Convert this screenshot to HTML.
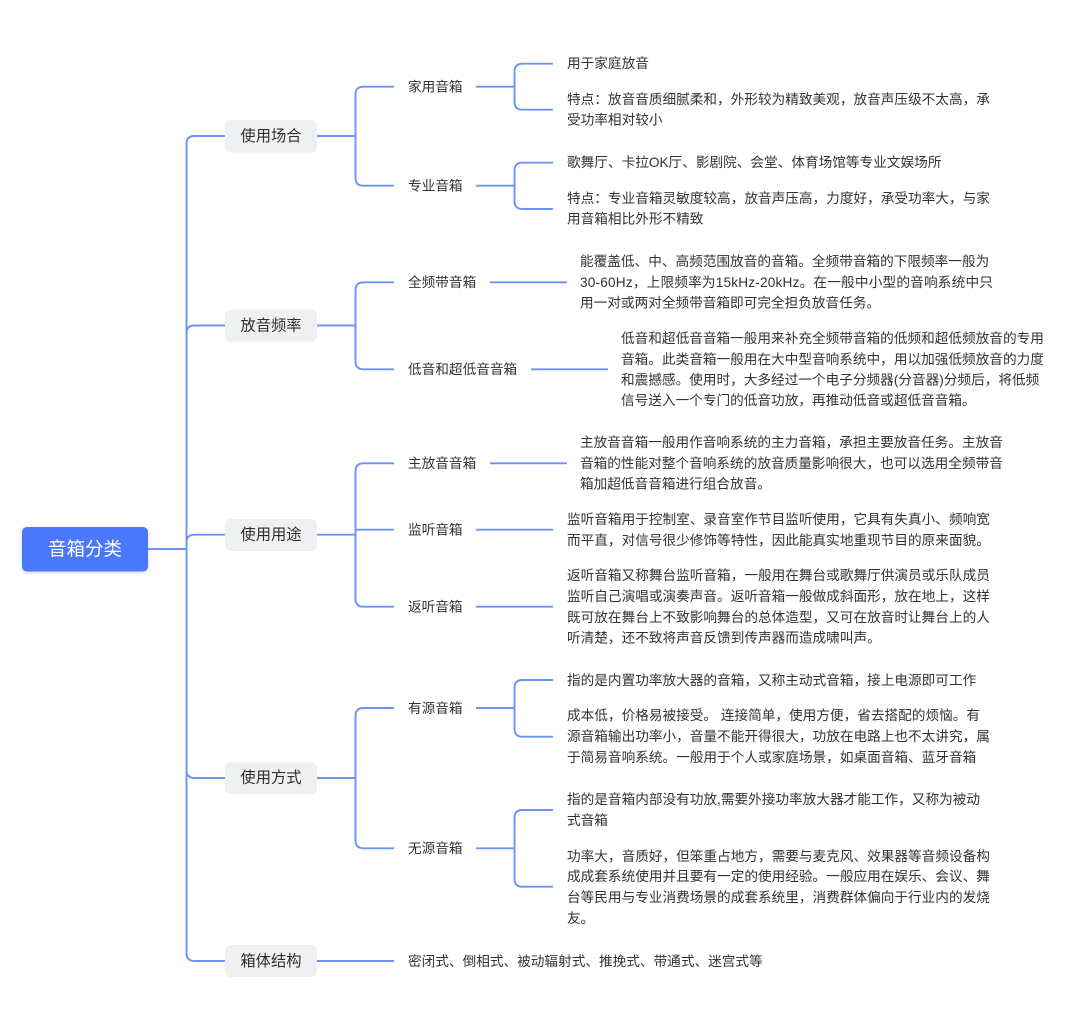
<!DOCTYPE html>
<html lang="zh-CN">
<head>
<meta charset="utf-8">
<title>音箱分类</title>
<style>
html,body{margin:0;padding:0;background:#fff;width:1080px;height:1023px;overflow:hidden}
svg{display:block;font-family:"Liberation Sans","Noto Sans CJK SC",sans-serif}
.c{fill:none;stroke:#6d93f8;stroke-width:1.9}
.t{font-size:13.65px;fill:#333}
.l{font-size:13.65px;fill:#333}
.b{font-size:15.3px;fill:#2e2e2e;text-anchor:middle}
</style>
</head>
<body>
<svg width="1080" height="1023" viewBox="0 0 1080 1023" xmlns="http://www.w3.org/2000/svg">
<defs>
<filter id="s" x="-20%" y="-30%" width="140%" height="160%"><feDropShadow dx="0" dy="1" stdDeviation="2" flood-color="#4c78fb" flood-opacity=".3"/></filter>
</defs>

<!-- Level 1 connectors -->
<path class="c" d="M148 549H186.5"/>
<path class="c" d="M225 136H194.5Q186.5 136 186.5 144V953Q186.5 961 194.5 961H225"/>
<path class="c" d="M186.5 333Q186.5 325.5 194.5 325.5H225"/>
<path class="c" d="M186.5 542.5Q186.5 534.7 194.5 534.7H225"/>
<path class="c" d="M186.5 770Q186.5 778 194.5 778H225"/>

<!-- Level 2 connectors -->
<path class="c" d="M317 136H355.5M394 86.7H363.5Q355.5 86.7 355.5 94.7V177.7Q355.5 185.7 363.5 185.7H394"/>
<path class="c" d="M317 325.5H355.5M394 282.3H363.5Q355.5 282.3 355.5 290.3V361.3Q355.5 369.3 363.5 369.3H394"/>
<path class="c" d="M317 534.7H355.5M394 463.3H363.5Q355.5 463.3 355.5 471.3V598.7Q355.5 606.7 363.5 606.7H394M355.5 529.7H394"/>
<path class="c" d="M317 778H355.5M394 708H363.5Q355.5 708 355.5 716V840.3Q355.5 848.3 363.5 848.3H394"/>
<path class="c" d="M317 961H394"/>

<!-- Level 3 connectors -->
<path class="c" d="M476 86.7H514.5M553 63.7H522.5Q514.5 63.7 514.5 71.7V101.7Q514.5 109.7 522.5 109.7H553"/>
<path class="c" d="M476 185.7H514.5M553 162.7H522.5Q514.5 162.7 514.5 170.7V201Q514.5 209 522.5 209H553"/>
<path class="c" d="M490 282.3H567"/>
<path class="c" d="M531 369.3H608"/>
<path class="c" d="M490 463.3H567"/>
<path class="c" d="M476 529.7H553"/>
<path class="c" d="M476 606.7H553"/>
<path class="c" d="M476 708H514.5M553 680H522.5Q514.5 680 514.5 688V728.7Q514.5 736.7 522.5 736.7H553"/>
<path class="c" d="M476 848.3H514.5M553 810H522.5Q514.5 810 514.5 818V878.7Q514.5 886.7 522.5 886.7H553"/>

<!-- Root -->
<rect x="22" y="527" width="126" height="44.5" rx="5" fill="#4c78fb" filter="url(#s)"/>
<text x="85" y="555.5" font-size="18.5" fill="#fff" text-anchor="middle">音箱分类</text>

<!-- Level 1 nodes -->
<rect x="225" y="120" width="92" height="32.5" rx="6" fill="#eff0f2"/>
<text class="b" x="271" y="141">使用场合</text>
<rect x="225" y="309.5" width="92" height="32.5" rx="6" fill="#eff0f2"/>
<text class="b" x="271" y="330.5">放音频率</text>
<rect x="225" y="519" width="92" height="32" rx="6" fill="#eff0f2"/>
<text class="b" x="271" y="539.5">使用用途</text>
<rect x="225" y="762" width="92" height="32" rx="6" fill="#eff0f2"/>
<text class="b" x="271" y="782.5">使用方式</text>
<rect x="225" y="945" width="92" height="32" rx="6" fill="#eff0f2"/>
<text class="b" x="271" y="966">箱体结构</text>

<!-- Level 2 labels -->
<text class="l" x="408" y="91.5">家用音箱</text>
<text class="l" x="408" y="190.5">专业音箱</text>
<text class="l" x="408" y="287">全频带音箱</text>
<text class="l" x="408" y="374">低音和超低音音箱</text>
<text class="l" x="408" y="468">主放音音箱</text>
<text class="l" x="408" y="534.5">监听音箱</text>
<text class="l" x="408" y="611.5">返听音箱</text>
<text class="l" x="408" y="713">有源音箱</text>
<text class="l" x="408" y="853">无源音箱</text>
<text class="l" x="408" y="966">密闭式、倒相式、被动辐射式、推挽式、带通式、迷宫式等</text>

<!-- Details -->
<text class="t" x="567" y="68">用于家庭放音</text>
<text class="t" x="567" y="104">特点：放音音质细腻柔和，外形较为精致美观，放音声压级不太高，承</text>
<text class="t" x="567" y="124.5">受功率相对较小</text>
<text class="t" x="567" y="167">歌舞厅、卡拉OK厅、影剧院、会堂、体育场馆等专业文娱场所</text>
<text class="t" x="567" y="203">特点：专业音箱灵敏度较高，放音声压高，力度好，承受功率大，与家</text>
<text class="t" x="567" y="223.5">用音箱相比外形不精致</text>

<text class="t" x="580" y="266">能覆盖低、中、高频范围放音的音箱。全频带音箱的下限频率一般为</text>
<text class="t" x="580" y="287" style="letter-spacing:.18px">30-60Hz，上限频率为15kHz-20kHz。在一般中小型的音响系统中只</text>
<text class="t" x="580" y="307.5">用一对或两对全频带音箱即可完全担负放音任务。</text>

<text class="t" x="621" y="343">低音和超低音音箱一般用来补充全频带音箱的低频和超低频放音的专用</text>
<text class="t" x="621" y="364">音箱。此类音箱一般用在大中型音响系统中，用以加强低频放音的力度</text>
<text class="t" x="621" y="384.5">和震撼感。使用时，大多经过一个电子分频器(分音器)分频后，将低频</text>
<text class="t" x="621" y="405">信号送入一个专门的低音功放，再推动低音或超低音音箱。</text>

<text class="t" x="580" y="447">主放音音箱一般用作音响系统的主力音箱，承担主要放音任务。主放音</text>
<text class="t" x="580" y="468">音箱的性能对整个音响系统的放音质量影响很大，也可以选用全频带音</text>
<text class="t" x="580" y="488.5">箱加超低音音箱进行组合放音。</text>

<text class="t" x="567" y="524">监听音箱用于控制室、录音室作节目监听使用，它具有失真小、频响宽</text>
<text class="t" x="567" y="545">而平直，对信号很少修饰等特性，因此能真实地重现节目的原来面貌。</text>

<text class="t" x="567" y="580">返听音箱又称舞台监听音箱，一般用在舞台或歌舞厅供演员或乐队成员</text>
<text class="t" x="567" y="601">监听自己演唱或演奏声音。返听音箱一般做成斜面形，放在地上，这样</text>
<text class="t" x="567" y="622">既可放在舞台上不致影响舞台的总体造型，又可在放音时让舞台上的人</text>
<text class="t" x="567" y="642.5">听清楚，还不致将声音反馈到传声器而造成啸叫声。</text>

<text class="t" x="567" y="685">指的是内置功率放大器的音箱，又称主动式音箱，接上电源即可工作</text>
<text class="t" x="567" y="720">成本低，价格易被接受。 连接简单，使用方便，省去搭配的烦恼。有</text>
<text class="t" x="567" y="741">源音箱输出功率小，音量不能开得很大，功放在电路上也不太讲究，属</text>
<text class="t" x="567" y="762">于简易音响系统。一般用于个人或家庭场景，如桌面音箱、蓝牙音箱</text>

<text class="t" x="567" y="804">指的是音箱内部没有功放,需要外接功率放大器才能工作，又称为被动</text>
<text class="t" x="567" y="825">式音箱</text>
<text class="t" x="567" y="861">功率大，音质好，但笨重占地方，需要与麦克风、效果器等音频设备构</text>
<text class="t" x="567" y="881">成成套系统使用并且要有一定的使用经验。一般应用在娱乐、会议、舞</text>
<text class="t" x="567" y="902">台等民用与专业消费场景的成套系统里，消费群体偏向于行业内的发烧</text>
<text class="t" x="567" y="923">友。</text>
</svg>
</body>
</html>
